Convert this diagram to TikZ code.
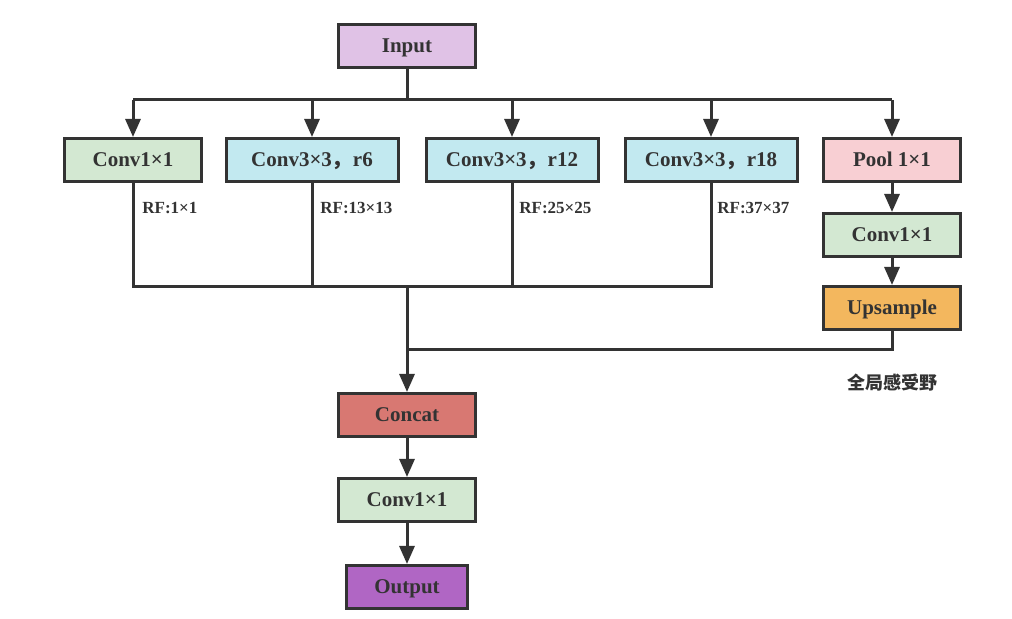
\documentclass[tikz,border=0pt]{standalone}
\usepackage{fontspec}
\setmainfont{Liberation Serif}
\newfontfamily\cjk{Noto Sans CJK SC}
\usetikzlibrary{arrows.meta,calc}
\definecolor{cline}{HTML}{333333}
\definecolor{cin}{HTML}{E0C2E6}
\definecolor{cgreen}{HTML}{D3E8D2}
\definecolor{ccyan}{HTML}{C2E9F0}
\definecolor{cpink}{HTML}{F8CFD3}
\definecolor{corange}{HTML}{F3B75E}
\definecolor{ccat}{HTML}{D87872}
\definecolor{cout}{HTML}{B066C4}
\newcommand{\fwc}{{\cjk ，}}
\tikzset{
    block/.style={
    rectangle,draw=cline,line width=1.5pt,minimum width=68.5pt,minimum height=21.5pt,
    inner sep=0pt,text height=7.5pt,text depth=0.5pt,
    font=\fontsize{10.5}{12}\selectfont\bfseries,text=cline
    },
    wblock/.style={
    block,minimum width=86pt
    },
    rf/.style={
    anchor=west,inner sep=0pt,font=\fontsize{8.5}{10}\selectfont\bfseries,text=cline
    },
    wire/.style={
    draw=cline,line width=1.5pt
    },
    arr/.style={
    wire,-{Triangle[width=7.5pt,length=9pt]}
    },
}
\begin{document}
\begin{tikzpicture}[x=0.5pt,y=-0.5pt]
   \useasboundingbox (0,0) rectangle (1012,619);

   \node[block,fill=cin] (input) at (407,46) {Input};

   %branches
   \node[block,fill=cgreen] (c1) at (133,160) {Conv1×1};
   \node[wblock,fill=ccyan] (c6) at (312,160) {Conv3×3\fwc r6};
   \node[wblock,fill=ccyan] (c12) at (512,160) {Conv3×3\fwc r12};
   \node[wblock,fill=ccyan] (c18) at (711,160) {Conv3×3\fwc r18};
   \node[block,fill=cpink] (pool) at (892,160) {Pool 1×1};
   \node[block,fill=cgreen] (pconv) at (892,235) {Conv1×1};
   \node[block,fill=corange] (up) at (892,308) {Upsample};

   %receptive fields
   \node[rf] (rf1) at (142,208) {RF:1×1};
   \node[rf] (rf6) at (320,208) {RF:13×13};
   \node[rf] (rf12) at (519,208) {RF:25×25};
   \node[rf] (rf18) at (717,208) {RF:37×37};
   \node[font=\cjk\bfseries\fontsize{9}{11}\selectfont,text=cline] (glob) at (892,383) {全局感受野};

   %head
   \node[block,fill=ccat] (concat) at (407,415) {Concat};
   \node[block,fill=cgreen] (hconv) at (407,500) {Conv1×1};
   \node[block,fill=cout,minimum width=60.5pt] (output) at (407,587) {Output};

   \coordinate (bus) at (407,100);
   \coordinate (mrg) at (407,287);
   \coordinate (gmrg) at (407,350);

   %fan out
   \draw[wire] (input.south) -- (bus);
   \draw[wire] (bus -| c1) -- (bus -| pool);
   \draw[arr] (bus -| c1) -- (c1.north);
   \draw[arr] (bus -| c6) -- (c6.north);
   \draw[arr] (bus -| c12) -- (c12.north);
   \draw[arr] (bus -| c18) -- (c18.north);
   \draw[arr] (bus -| pool) -- (pool.north);
   \draw[arr] (pool) -- (pconv);
   \draw[arr] (pconv) -- (up);

   %fan in
   \draw[wire] (c1.south) -- (c1 |- mrg) -- (c18 |- mrg) -- (c18.south);
   \draw[wire] (c6.south) -- (c6 |- mrg);
   \draw[wire] (c12.south) -- (c12 |- mrg);
   \draw[wire] (up.south) |- (gmrg);
   \draw[arr] (mrg) -- (concat.north);
   \draw[arr] (concat) -- (hconv);
   \draw[arr] (hconv) -- (output);
\end{tikzpicture}
\end{document}
